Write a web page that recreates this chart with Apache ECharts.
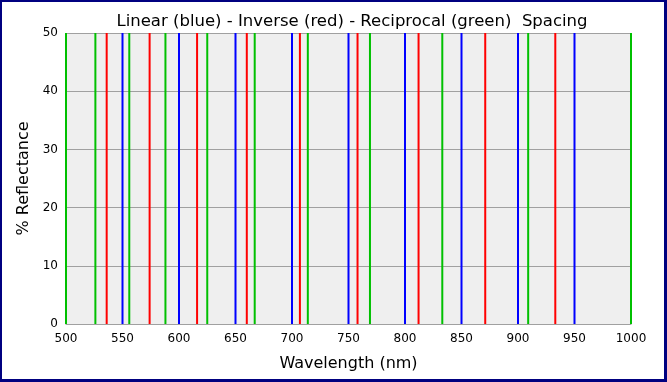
<!DOCTYPE html>
<html><head><meta charset="utf-8">
<script src="https://cdn.jsdelivr.net/npm/echarts@6/dist/echarts.min.js"></script>
<style>
html,body{margin:0;padding:0;background:#fff;}
#frame{position:absolute;left:0;top:0;width:667px;height:382px;box-sizing:border-box;border-style:solid;border-color:#000080;border-width:2px 3px 3px 2px;}
#c{position:absolute;left:0;top:0;width:667px;height:382px;}
</style></head>
<body>
<div id="c"></div>
<div id="frame"></div>
<script>
var xTicks = [500,550,600,650,700,750,800,850,900,950,1000];
var yTicks = [0,10,20,30,40,50];
var linearBlue = [550,600,650,700,750,800,850,900,950];
var inverseRed = [536,574,616,660,707,758,812,871,933,1000];
var reciprocalGreen = [500,526,556,588,625,667,714,769,833,909,1000];
var lineHeight = 50;

function toData(arr){ return arr.map(function(v){ return [v, lineHeight]; }); }
function barSeries(name, arr, color){
  return {name:name,type:'bar',data:toData(arr),barWidth:2,barGap:'-100%',
    itemStyle:{color:color},animation:false,silent:true};
}
var chart = echarts.init(document.getElementById('c'), null, {renderer:'canvas'});
chart.setOption({
  animation:false,
  title:{text:'Linear (blue) - Inverse (red) - Reciprocal (green)  Spacing',left:347,textAlign:'center',top:8,
    textStyle:{fontFamily:'DejaVu Sans',fontSize:16.5,fontWeight:'normal',color:'#000'}},
  grid:{left:66,right:36,top:33,bottom:58,show:true,backgroundColor:'#efefef',borderWidth:0},
  xAxis:{type:'value',min:500,max:1000,interval:50,
    name:'Wavelength (nm)',nameLocation:'middle',nameGap:32,
    nameTextStyle:{fontFamily:'DejaVu Sans',fontSize:16,color:'#000'},
    axisLine:{show:true,lineStyle:{color:'#a0a0a0',width:1}},
    axisTick:{show:false},splitLine:{show:false},
    axisLabel:{fontFamily:'DejaVu Sans',fontSize:12,color:'#000',margin:9,
      formatter:function(v){ return String(v); }}},
  yAxis:{type:'value',min:0,max:50,interval:10,
    name:'% Reflectance',nameLocation:'middle',nameGap:34,
    nameTextStyle:{fontFamily:'DejaVu Sans',fontSize:16,color:'#000'},
    axisLine:{show:false},axisTick:{show:false},
    splitLine:{show:true,lineStyle:{color:'#a0a0a0',width:1}},
    axisLabel:{fontFamily:'DejaVu Sans',fontSize:12,color:'#000',margin:8}},
  series:[
    barSeries('Linear',linearBlue,'#0000ff'),
    barSeries('Inverse',inverseRed,'#ff0000'),
    barSeries('Reciprocal',reciprocalGreen,'#00c000')
  ]
});
</script>
</body></html>
